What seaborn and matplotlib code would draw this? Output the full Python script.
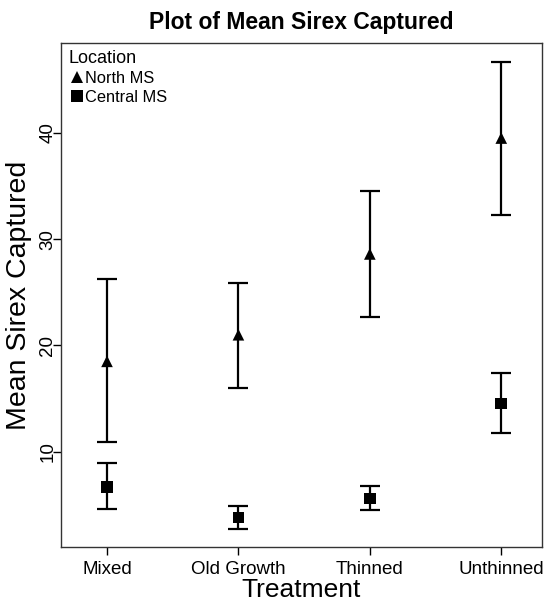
import numpy as np
import pandas as pd
import matplotlib
matplotlib.use("Agg")
import matplotlib.pyplot as plt
import seaborn as sns

sns.set_theme(style="ticks")
plt.rcParams['font.family'] = ['Liberation Sans', 'DejaVu Sans']
plt.rcParams['text.color'] = 'black'
plt.rcParams['axes.labelcolor'] = 'black'

# Données
treatments = ['Mixed', 'Old Growth', 'Thinned', 'Unthinned']
locations = ['North MS', 'Central MS']
north_mean = [18.5, 21.0, 28.6, 39.5]
north_lower = [10.9, 16.0, 22.7, 32.3]
north_upper = [26.2, 25.9, 34.5, 46.7]
central_mean = [6.7, 3.8, 5.6, 14.55]
central_lower = [4.6, 2.7, 4.5, 11.8]
central_upper = [8.9, 4.9, 6.8, 17.4]

df = pd.DataFrame({
    'Treatment': treatments * 2,
    'Location': [locations[0]] * 4 + [locations[1]] * 4,
    'mean': north_mean + central_mean,
    'lower': north_lower + central_lower,
    'upper': north_upper + central_upper,
})
df['Treatment'] = pd.Categorical(df['Treatment'], categories=treatments)
df['xpos'] = df['Treatment'].cat.codes

fig = plt.figure(figsize=(5.47, 6.03), dpi=100)
ax = fig.add_axes([61 / 547, 1 - 547 / 603, (542 - 61) / 547, (547 - 43) / 603])

# Barres d'erreur
for loc in locations:
    sub = df[df['Location'] == loc]
    ax.errorbar(sub['xpos'], sub['mean'],
                yerr=[sub['mean'] - sub['lower'], sub['upper'] - sub['mean']],
                fmt='none', ecolor='black', elinewidth=1.6, capsize=7, capthick=1.6, zorder=2)

sns.scatterplot(data=df, x='xpos', y='mean', style='Location', markers={'North MS': '^', 'Central MS': 's'},
                style_order=locations, color='black', s=70, edgecolor='black', linewidth=0,
                ax=ax, zorder=3)

ax.set_xlim(-0.35, 3.31)
ax.set_ylim(1.04, 48.44)
ax.set_xticks(range(len(treatments)))
ax.set_xticklabels(treatments, fontsize=13.5)
ax.set_yticks([10, 20, 30, 40])
ax.set_yticklabels(['10', '20', '30', '40'], fontsize=13.5, rotation=90, va='center')
ax.tick_params(axis='both', direction='out', length=6, width=1, colors='black')
ax.tick_params(axis='y', pad=-2.5)
ax.tick_params(axis='x', pad=4)
for s in ax.spines.values():
    s.set_visible(True)
    s.set_linewidth(1)
    s.set_color('#333333')

ax.set_xlabel('Treatment', fontsize=19)
ax.xaxis.set_label_coords(0.5, -31 / 504, transform=ax.transAxes)
ax.set_ylabel('Mean Sirex Captured', fontsize=20.5)
ax.yaxis.set_label_coords(-29 / 481, 0.5, transform=ax.transAxes)
ax.set_title('Plot of Mean Sirex Captured', fontsize=16.5, fontweight='bold', pad=10, color='black')

leg = ax.legend(title='Location', loc='upper left', frameon=False, fontsize=11.8, title_fontsize=13,
                handletextpad=0.0, borderaxespad=0.25, labelspacing=0.22, markerscale=1.0,
                handlelength=1.0, borderpad=0.2)
leg._legend_box.align = 'left'
for t in leg.get_texts():
    t.set_color('black')
leg.get_title().set_color('black')

plt.savefig('out.png', dpi=100)
